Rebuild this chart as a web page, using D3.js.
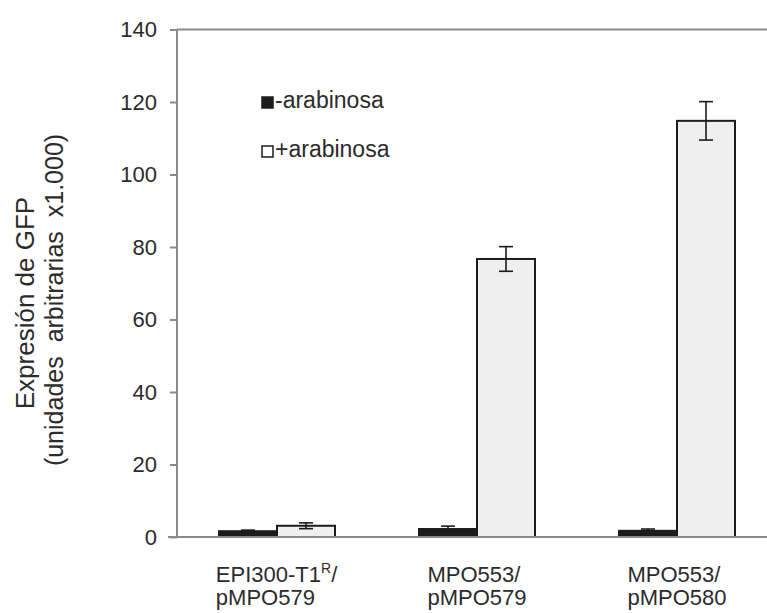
<!DOCTYPE html>
<html>
<head>
<meta charset="utf-8">
<script src="https://cdn.jsdelivr.net/npm/d3@7"></script>
<style>
  body { margin: 0; background: #fff; }
  text { font-family: "Liberation Sans", Arial, sans-serif; fill: #2b2b2b; }
</style>
</head>
<body>
<div class="container"></div>
<script>
// chart data
const categories = ['EPI300-T1R/pMPO579', 'MPO553/pMPO579', 'MPO553/pMPO580'];
const catLines = [['EPI300-T1', 'pMPO579'], ['MPO553/', 'pMPO579'], ['MPO553/', 'pMPO580']];
const series = ['-arabinosa', '+arabinosa'];
const minusValues = [1.6, 2.2, 1.7];
const minusErrors = [0.3, 0.8, 0.5];
const plusValues = [3.1, 76.7, 114.8];
const plusErrors = [0.8, 3.4, 5.3];
const yTicks = [0, 20, 40, 60, 80, 100, 120, 140];

(function () {
  const width = 767, height = 613;
  const svg = d3.select('.container').append('svg')
    .attr('width', width)
    .attr('height', height);

  const axisColor = '#8a8a8a';
  const ink = '#1c1c1c';
  const left = 177, top = 29.5, bottom = 537, right = 777;

  const y = d3.scaleLinear().domain([0, 140]).range([bottom, top]);
  const x0 = d3.scaleBand().domain(categories).range([left, right]);
  const x1 = d3.scaleBand().domain(series).range([0, x0.bandwidth()])
    .paddingInner(0).paddingOuter(0.724);

  const rows = [];
  categories.forEach((c, i) => {
    rows.push({cat: c, s: series[0], v: minusValues[i], e: minusErrors[i]});
    rows.push({cat: c, s: series[1], v: plusValues[i], e: plusErrors[i]});
  });

  // top border of the plot area
  svg.append('line')
    .attr('x1', left).attr('x2', right).attr('y1', top).attr('y2', top)
    .attr('stroke', axisColor).attr('stroke-width', 2);

  // y axis
  const yAxis = svg.append('g')
    .attr('transform', `translate(${left},0)`)
    .call(d3.axisLeft(y).tickValues(yTicks).tickSize(7).tickPadding(13));
  yAxis.select('.domain').remove();
  yAxis.selectAll('.tick line').attr('stroke', axisColor).attr('stroke-width', 2);
  yAxis.selectAll('.tick text')
    .attr('fill', '#2b2b2b')
    .style('font-size', '22px')
    .style('font-family', '"Liberation Sans", Arial, sans-serif');
  svg.append('line')
    .attr('x1', left).attr('x2', left).attr('y1', top).attr('y2', bottom)
    .attr('stroke', axisColor).attr('stroke-width', 2);

  // bars
  svg.selectAll('rect.bar')
    .data(rows)
    .enter()
    .append('rect')
    .attr('class', 'bar')
    .attr('x', d => x0(d.cat) + x1(d.s))
    .attr('y', d => y(d.v))
    .attr('width', x1.bandwidth())
    .attr('height', d => y(0) - y(d.v))
    .attr('fill', d => d.s === series[0] ? ink : '#efefef')
    .attr('stroke', ink)
    .attr('stroke-width', 2);

  // error bars
  const err = svg.selectAll('g.err')
    .data(rows)
    .enter()
    .append('g')
    .attr('class', 'err')
    .attr('stroke', ink)
    .attr('stroke-width', 1.6);
  const cx = d => x0(d.cat) + x1(d.s) + x1.bandwidth() / 2;
  err.append('line')
    .attr('x1', cx).attr('x2', cx)
    .attr('y1', d => y(d.v + d.e)).attr('y2', d => y(d.v - d.e));
  err.append('line')
    .attr('x1', d => cx(d) - 7).attr('x2', d => cx(d) + 7)
    .attr('y1', d => y(d.v + d.e)).attr('y2', d => y(d.v + d.e));
  err.append('line')
    .attr('x1', d => cx(d) - 7).attr('x2', d => cx(d) + 7)
    .attr('y1', d => y(d.v - d.e)).attr('y2', d => y(d.v - d.e));

  // baseline drawn over the bars
  svg.append('line')
    .attr('x1', 168).attr('x2', right).attr('y1', bottom).attr('y2', bottom)
    .attr('stroke', axisColor).attr('stroke-width', 2);

  // category labels: left aligned block centred under each group
  categories.forEach((c, i) => {
    const t = svg.append('text').style('font-size', '22px');
    t.append('tspan').attr('x', 0).attr('y', 582).text(catLines[i][0]);
    if (i === 0) {
      t.append('tspan').attr('dy', -9).style('font-size', '14px').text('R');
      t.append('tspan').attr('dy', 9).text('/');
    }
    t.append('tspan').attr('x', 0).attr('y', 605).text(catLines[i][1]);
    const w = t.node().getBBox().width;
    t.attr('transform', `translate(${x0(c) + x0.bandwidth() / 2 - w / 2},0)`);
  });

  // legend
  const legY = [97, 146];
  series.forEach((s, i) => {
    svg.append('rect')
      .attr('x', 262).attr('y', legY[i])
      .attr('width', 11).attr('height', 11)
      .attr('fill', i === 0 ? ink : '#fff')
      .attr('stroke', ink).attr('stroke-width', 1.5);
    svg.append('text')
      .attr('x', 275).attr('y', legY[i] + 11)
      .style('font-size', '23px')
      .text(s);
  });

  // y axis title
  svg.append('text')
    .attr('transform', 'translate(34,303) rotate(-90)')
    .attr('text-anchor', 'middle')
    .style('font-size', '26px')
    .text('Expresión de GFP');
  svg.append('text')
    .attr('transform', 'translate(63,300) rotate(-90)')
    .attr('text-anchor', 'middle')
    .style('font-size', '25px')
    .style('word-spacing', '7px')
    .text('(unidades arbitrarias x1.000)');
})();
</script>
</body>
</html>
